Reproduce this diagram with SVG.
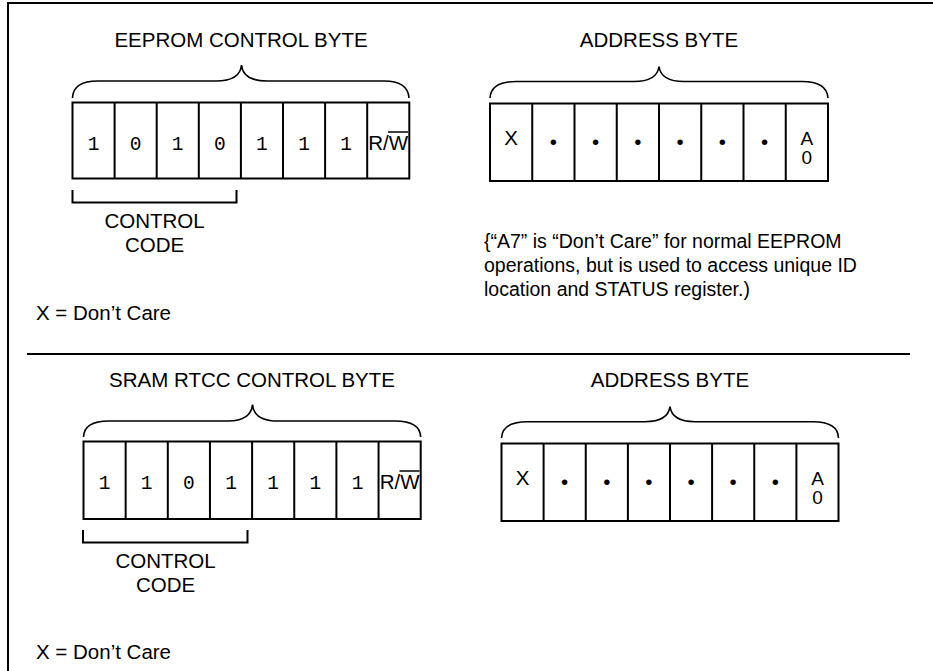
<svg xmlns="http://www.w3.org/2000/svg" width="933" height="671" viewBox="0 0 933 671">
<style>
  .frame{fill:none;stroke:#000;stroke-width:2}
  .cell{fill:#fff;stroke:#000;stroke-width:2}
  .div{stroke:#000;stroke-width:2}
  .brace{fill:none;stroke:#000;stroke-width:1.6}
  .bracket{fill:none;stroke:#000;stroke-width:2}
  .t{font-family:"Liberation Sans",Arial,sans-serif;font-size:20.5px;fill:#000}
  .c{text-anchor:middle}
  .a0{font-size:19px}
  .m{font-family:"Liberation Mono","Courier New",monospace;font-size:19.5px;fill:#000;text-anchor:middle}
  .note{font-family:"Liberation Sans",Arial,sans-serif;font-size:19.5px;fill:#000}
</style>
<rect width="933" height="671" fill="#fff"/>
<g id="frame">
  <path class="frame" d="M8,671 V3 H933"/>
  <line class="frame" x1="27" y1="354" x2="910" y2="354"/>
</g>

<g id="eeprom-control-byte">
  <text class="t c" x="241" y="47">EEPROM CONTROL BYTE</text>
  <path class="brace" d="M72.5,98 Q73,81 98,81 L216,81 Q240,81 241.5,65 Q243,81 267,81 L384,81 Q408,81 409,98"/>
  <rect class="cell" x="72.5" y="102.5" width="336.8" height="76"/>
  <path class="div" d="M114.6,102.5V178.5M156.7,102.5V178.5M198.8,102.5V178.5M240.9,102.5V178.5M283,102.5V178.5M325.1,102.5V178.5M367.2,102.5V178.5"/>
  <text class="m" x="93.5" y="150">1</text>
  <text class="m" x="135.6" y="150">0</text>
  <text class="m" x="177.7" y="150">1</text>
  <text class="m" x="219.8" y="150">0</text>
  <text class="m" x="261.9" y="150">1</text>
  <text class="m" x="304" y="150">1</text>
  <text class="m" x="346.1" y="150">1</text>
  <text class="t c" x="388.2" y="150">R/W</text>
  <line class="div" x1="388" y1="132" x2="408" y2="132" style="stroke-width:1.5"/>
</g>

<g id="eeprom-control-code">
  <path class="bracket" d="M72.5,190 V202.5 H236.5 V190"/>
  <text class="t c" x="154.5" y="228">CONTROL</text>
  <text class="t c" x="154.5" y="252">CODE</text>
</g>

<g id="eeprom-dont-care">
  <text class="t" x="36" y="320">X = Don’t Care</text>
</g>

<g id="eeprom-address-byte">
  <text class="t c" x="659" y="47">ADDRESS BYTE</text>
  <path class="brace" d="M490,98 Q491,81.5 516,81.5 L634,81.5 Q657,81.5 659,66.5 Q661,81.5 684,81.5 L802,81.5 Q827,81.5 828,98"/>
  <rect class="cell" x="490" y="103.5" width="338" height="77.5"/>
  <path class="div" d="M532.25,103.5V181M574.5,103.5V181M616.75,103.5V181M659,103.5V181M701.25,103.5V181M743.5,103.5V181M785.75,103.5V181"/>
  <text class="t c" x="511" y="145">X</text>
  <text class="t c" x="553.4" y="148.5">•</text>
  <text class="t c" x="595.6" y="148.5">•</text>
  <text class="t c" x="637.9" y="148.5">•</text>
  <text class="t c" x="680.1" y="148.5">•</text>
  <text class="t c" x="722.4" y="148.5">•</text>
  <text class="t c" x="764.6" y="148.5">•</text>
  <text class="t c a0" x="806.9" y="144.5">A<tspan x="806.9" dy="19.5">0</tspan></text>
</g>

<g id="eeprom-note">
  <text class="note" x="484" y="248">{“A7” is “Don’t Care” for normal EEPROM</text>
  <text class="note" x="484" y="272">operations, but is used to access unique ID</text>
  <text class="note" x="484" y="296">location and STATUS register.)</text>
</g>

<g id="sram-control-byte">
  <text class="t c" x="252" y="387">SRAM RTCC CONTROL BYTE</text>
  <path class="brace" d="M83.5,437 Q84,421 109,421 L228,421 Q251,421 252.5,404.5 Q254,421 278,421 L395,421 Q420,421 420.7,437"/>
  <rect class="cell" x="83.5" y="441.5" width="337.2" height="77.5"/>
  <path class="div" d="M125.65,441.5V519M167.8,441.5V519M209.95,441.5V519M252.1,441.5V519M294.25,441.5V519M336.4,441.5V519M378.55,441.5V519"/>
  <text class="m" x="104.6" y="489">1</text>
  <text class="m" x="146.7" y="489">1</text>
  <text class="m" x="188.9" y="489">0</text>
  <text class="m" x="231" y="489">1</text>
  <text class="m" x="273.2" y="489">1</text>
  <text class="m" x="315.3" y="489">1</text>
  <text class="m" x="357.5" y="489">1</text>
  <text class="t c" x="399.6" y="489">R/W</text>
  <line class="div" x1="399.5" y1="471" x2="419.5" y2="471" style="stroke-width:1.5"/>
</g>

<g id="sram-control-code">
  <path class="bracket" d="M83,530 V542.5 H247.5 V530"/>
  <text class="t c" x="165.5" y="568">CONTROL</text>
  <text class="t c" x="165.5" y="592">CODE</text>
</g>

<g id="sram-dont-care">
  <text class="t" x="36" y="659">X = Don’t Care</text>
</g>

<g id="sram-address-byte">
  <text class="t c" x="670" y="387">ADDRESS BYTE</text>
  <path class="brace" d="M501.5,438 Q502.5,421.7 527.5,421.7 L645,421.7 Q668,421.7 670,406.7 Q672,421.7 695,421.7 L813,421.7 Q838,421.7 838.5,438"/>
  <rect class="cell" x="501.5" y="443.5" width="337" height="77.5"/>
  <path class="div" d="M543.6,443.5V521M585.75,443.5V521M627.9,443.5V521M670,443.5V521M712.1,443.5V521M754.25,443.5V521M796.4,443.5V521"/>
  <text class="t c" x="522.5" y="485">X</text>
  <text class="t c" x="564.7" y="488.5">•</text>
  <text class="t c" x="606.8" y="488.5">•</text>
  <text class="t c" x="648.9" y="488.5">•</text>
  <text class="t c" x="691" y="488.5">•</text>
  <text class="t c" x="733.2" y="488.5">•</text>
  <text class="t c" x="775.3" y="488.5">•</text>
  <text class="t c a0" x="817.5" y="484.5">A<tspan x="817.5" dy="19.5">0</tspan></text>
</g>
</svg>
